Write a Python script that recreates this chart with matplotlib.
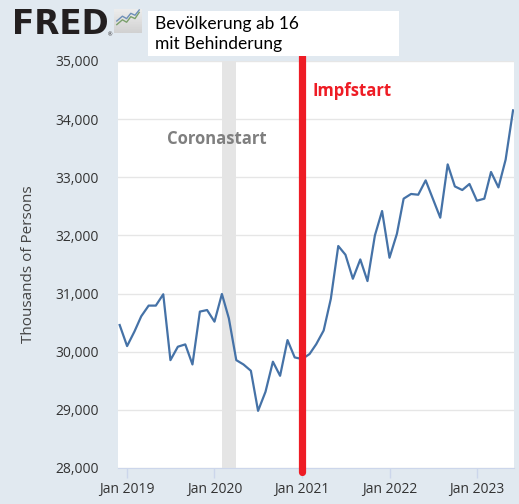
"""
FRED-Grafik: Bevölkerung ab 16 mit Behinderung (Dez 2018 - Jun 2023)
"""
import matplotlib
matplotlib.use('Agg')
import matplotlib.pyplot as plt
import matplotlib.dates as mdates
import numpy as np
import pandas as pd

plt.rcParams['font.family'] = ['Open Sans', 'DejaVu Sans']

# monatliche Werte, Tausend Personen
months = pd.date_range('2018-12-01', '2023-06-01', freq='MS')
persons = [
    30459,                                                   # Dez 2018
    30097, 30350, 30609, 30793, 30793, 30988,                # 2019
    29855, 30086, 30126, 29781, 30690, 30717,
    30517, 30993, 30574, 29855, 29781, 29672,                # 2020
    28983, 29310, 29828, 29586, 30200, 29902,
    29874, 29960, 30130, 30365, 30911, 31818,                # 2021
    31668, 31255, 31587, 31215, 32000, 32420,
    31616, 32029, 32632, 32713, 32700, 32947,                # 2022
    32632, 32305, 33222, 32843, 32781, 32885,
    32597, 32632, 33091, 32826, 33303, 34151,                # 2023
]

corona_band = (pd.Timestamp('2020-02-01'), pd.Timestamp('2020-04-01'))
impf_date = pd.Timestamp('2021-01-01')
year_ticks = pd.date_range('2019-01-01', '2023-01-01', freq='YS')
y_ticks = np.arange(28000, 35001, 1000)

BG = '#e1e9f0'
W, H = 519, 504

fig = plt.figure(figsize=(W / 100, H / 100), dpi=100, facecolor=BG)
ax = fig.add_axes([118 / W, 1 - 468 / H, (514 - 118) / W, (468 - 61) / H])
ax.set_facecolor('white')

ax.axvspan(*corona_band, color='#e5e5e5', zorder=1, lw=0)
ax.plot(months, persons, color='#4572a7', linewidth=1.6, zorder=3)
ax.plot([impf_date, impf_date], [27930, 35080], color='#ee1c25', linewidth=5.2,
        solid_capstyle='round', zorder=4, clip_on=False)

ax.text(pd.Timestamp('2019-06-18'), 33660, 'Coronastart', color='#7f7f7f',
        fontsize=12, fontweight='bold', va='center', zorder=5)
ax.text(pd.Timestamp('2021-02-15'), 34480, 'Impfstart', color='#ee1c25',
        fontsize=12, fontweight='bold', va='center', zorder=5)

ax.set_xlim(pd.Timestamp('2018-11-24'), pd.Timestamp('2023-06-05'))
ax.set_ylim(28000, 35000)
ax.set_yticks(y_ticks)
ax.yaxis.set_major_formatter(plt.FuncFormatter(lambda v, _: f'{v:,.0f}'))
ax.set_xticks(year_ticks)
ax.xaxis.set_major_formatter(mdates.DateFormatter('Jan %Y'))
ax.grid(axis='y', color='#e6e6e6', linewidth=1, zorder=0)
ax.set_axisbelow(True)

for s in ['top', 'right', 'left']:
    ax.spines[s].set_visible(False)
ax.spines['bottom'].set_color('#ccd6eb')
ax.tick_params(axis='y', length=0, pad=14, labelsize=10, labelcolor='#333333')
ax.tick_params(axis='x', length=7, width=1, color='#ccd6eb', pad=3,
               labelsize=10, labelcolor='#333333')
ax.set_ylabel('Thousands of Persons', fontsize=11, color='#444444', labelpad=14)

# FRED-Logo
fig.text(12 / W, 1 - 25 / H, 'FRED', fontsize=23.5, fontweight='bold',
         family=['DejaVu Sans'], color='#231f20', va='center', ha='left')
fig.text(108 / W, 1 - 35 / H, '®', fontsize=4, color='#231f20', va='center')
icon = fig.add_axes([114 / W, 1 - 33 / H, 28 / W, 24 / H])
icon.imshow(np.linspace(0.93, 0.82, 20).reshape(-1, 1), cmap='gray', vmin=0, vmax=1,
            extent=[0, 10, 0, 10], aspect='auto')
icon.plot([1, 3, 4.5, 6, 7.5, 9], [3.5, 5.5, 4.5, 6.8, 6.0, 8.6], color='#7aa06b', lw=1)
icon.plot([1, 3, 4.5, 6, 7.5, 9], [5.0, 7.0, 6.0, 8.2, 7.4, 9.6], color='#6d8fb7', lw=1)
icon.set_xlim(0, 10)
icon.set_ylim(0, 10)
icon.axis('off')

# Titelkasten
fig.patches.append(plt.Rectangle((148 / W, 1 - 56 / H), (399 - 148) / W, 45 / H,
                                 transform=fig.transFigure, facecolor='white',
                                 edgecolor='none'))
fig.text(155 / W, 1 - 34 / H, 'Bevölkerung ab 16\nmit Behinderung', fontsize=12.5,
         family=['Lato', 'DejaVu Sans'], color='black', va='center', ha='left',
         linespacing=1.25)

fig.savefig('out.png', dpi=100, facecolor=BG)
print('saved: out.png')
